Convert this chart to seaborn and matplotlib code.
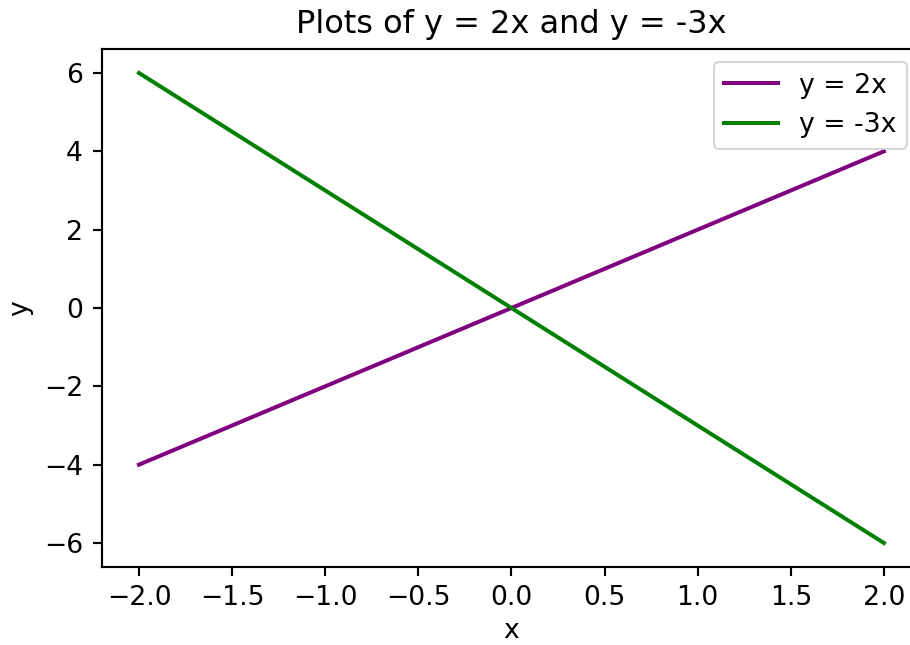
import matplotlib
matplotlib.use("Agg")
import matplotlib.pyplot as plt
import seaborn as sns
import pandas as pd

x_vals = [-2.0, -1.0, 0.0, 1.0, 2.0]
y_2x = [-4.0, -2.0, 0.0, 2.0, 4.0]
y_m3x = [6.0, 3.0, 0.0, -3.0, -6.0]
series_labels = ["y = 2x", "y = -3x"]
series_colors = ["purple", "green"]

df = pd.DataFrame({
    "x": x_vals * 2,
    "y": y_2x + y_m3x,
    "series": [series_labels[0]] * len(x_vals) + [series_labels[1]] * len(x_vals),
})

s = 1.28
plt.rcParams.update({
    "font.size": 10 * s,
    "axes.linewidth": 0.8 * s,
    "xtick.major.size": 3.5 * s,
    "ytick.major.size": 3.5 * s,
    "xtick.major.width": 0.8 * s,
    "ytick.major.width": 0.8 * s,
    "xtick.major.pad": 3.5 * s,
    "ytick.major.pad": 3.5 * s,
})

fig = plt.figure(figsize=(910 / 150, 645 / 150), dpi=150)
ax = fig.add_axes([0.1118, 0.1217, 0.9005, 0.8016])
sns.lineplot(data=df, x="x", y="y", hue="series", palette=series_colors,
             linewidth=1.5 * s, ax=ax)
ax.set_title("Plots of y = 2x and y = -3x", fontsize=12 * s, pad=6 * s)
ax.set_xlabel("x", labelpad=3.5)
ax.set_ylabel("y", labelpad=4 * s)
ax.tick_params(labelsize=10 * s)
leg = ax.legend(loc="upper right", bbox_to_anchor=(0.9826, 0.9758),
                borderaxespad=0, fontsize=10 * s)
fig.savefig("out.png", dpi=150)
